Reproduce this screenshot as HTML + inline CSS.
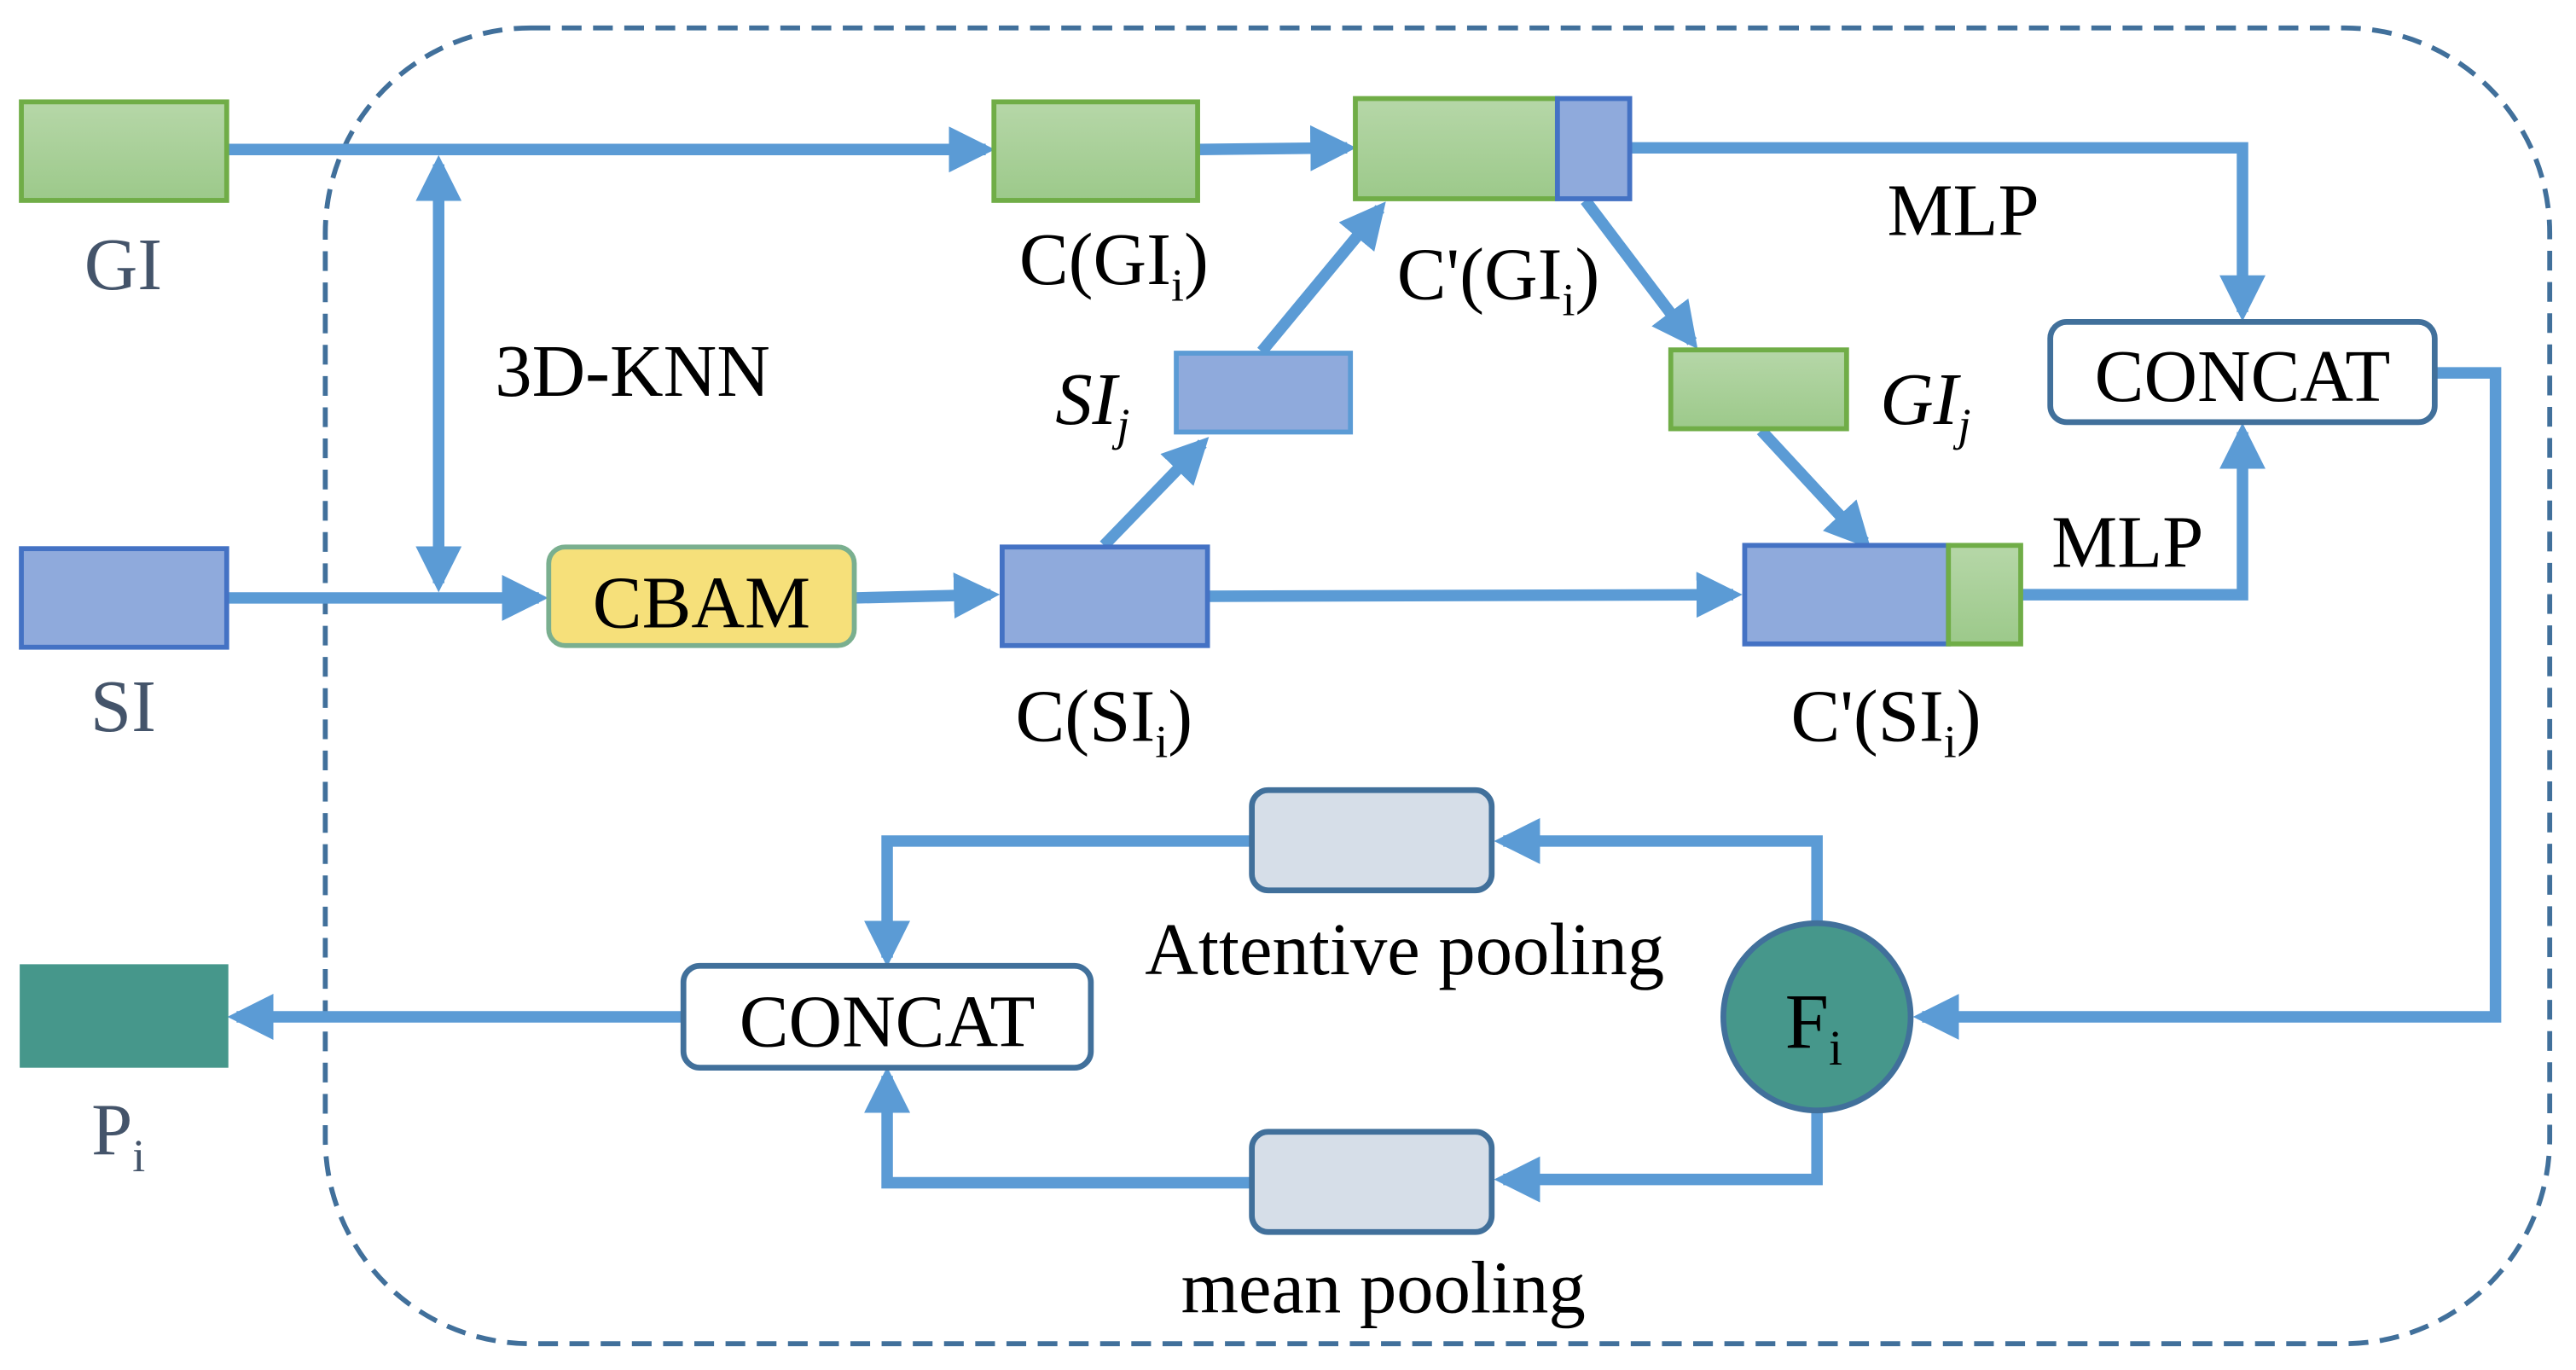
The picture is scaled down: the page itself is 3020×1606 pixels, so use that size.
<!DOCTYPE html>
<html><head><meta charset="utf-8"><style>html,body{margin:0;padding:0;background:#fff}svg{display:block}</style></head>
<body>
<svg width="3020" height="1606" viewBox="0 0 1568 834" preserveAspectRatio="none" xmlns="http://www.w3.org/2000/svg" font-family="'Liberation Serif', serif">
<defs>
<linearGradient id="g" x1="0" y1="0" x2="0" y2="1"><stop offset="0" stop-color="#b6d7a8"/><stop offset="1" stop-color="#9cc98a"/></linearGradient>
<marker id="a" markerWidth="4" markerHeight="4" refX="3.2" refY="2" orient="auto" markerUnits="strokeWidth"><path d="M0,0 L4,2 L0,4 Z" fill="#5b9bd5"/></marker>
<marker id="as" markerWidth="4" markerHeight="4" refX="0.8" refY="2" orient="auto" markerUnits="strokeWidth"><path d="M4,0 L0,2 L4,4 Z" fill="#5b9bd5"/></marker>
</defs>
<rect x="198" y="17" width="1354" height="801" rx="125" fill="none" stroke="#41709b" stroke-width="3" stroke-dasharray="12,7"/>
<g fill="none" stroke="#5b9bd5" stroke-width="7">
<path d="M138,91 H600" marker-end="url(#a)"/>
<path d="M267,100 V355" marker-end="url(#a)" marker-start="url(#as)"/>
<path d="M138,364 H328" marker-end="url(#a)"/>
<path d="M520,364 L603,362" marker-end="url(#a)"/>
<path d="M729,91 L820,90" marker-end="url(#a)"/>
<path d="M672,332 L732,270" marker-end="url(#a)"/>
<path d="M768,214 L840,127" marker-end="url(#a)"/>
<path d="M965,122 L1030,208" marker-end="url(#a)"/>
<path d="M1072,262 L1135,330" marker-end="url(#a)"/>
<path d="M735,363 L1055,362" marker-end="url(#a)"/>
<path d="M992,90 H1365 V190" marker-end="url(#a)"/>
<path d="M1230,362 H1365 V263" marker-end="url(#a)"/>
<path d="M1482,227 H1519 V619 H1170" marker-end="url(#a)"/>
<path d="M1106,562 V512 H915" marker-end="url(#a)"/>
<path d="M762,512 H540 V583" marker-end="url(#a)"/>
<path d="M1106,676 V718 H915" marker-end="url(#a)"/>
<path d="M762,720 H540 V655" marker-end="url(#a)"/>
<path d="M416,619 H144" marker-end="url(#a)"/>
</g>
<g stroke-width="3">
<rect x="13" y="62" width="125" height="60" fill="url(#g)" stroke="#70ad47"/>
<rect x="13" y="334" width="125" height="60" fill="#8faadc" stroke="#4472c4"/>
<rect x="12" y="587" width="127" height="63" fill="#46978b" stroke="none"/>
<rect x="605" y="62" width="124" height="60" fill="url(#g)" stroke="#70ad47"/>
<rect x="825" y="60" width="123" height="61" fill="url(#g)" stroke="#70ad47"/>
<rect x="948" y="60" width="44" height="61" fill="#8faadc" stroke="#4472c4"/>
<rect x="610" y="333" width="125" height="60" fill="#8faadc" stroke="#4472c4"/>
<rect x="716" y="215" width="106" height="48" fill="#8faadc" stroke="#5b9bd5"/>
<rect x="1017" y="213" width="107" height="48" fill="url(#g)" stroke="#70ad47"/>
<rect x="1062" y="332" width="124" height="60" fill="#8faadc" stroke="#4472c4"/>
<rect x="1186" y="332" width="44" height="60" fill="url(#g)" stroke="#70ad47"/>
<rect x="334" y="333" width="186" height="60" rx="10" fill="#f6e07a" stroke="#7aaf8f"/>
<rect x="1248" y="196" width="234" height="61" rx="10" fill="#fff" stroke="#41709b" stroke-width="3.5"/>
<rect x="416" y="588" width="248" height="62" rx="10" fill="#fff" stroke="#41709b" stroke-width="3.5"/>
<rect x="762" y="481" width="146" height="61" rx="10" fill="#d6dee8" stroke="#41709b" stroke-width="3.5"/>
<rect x="762" y="689" width="146" height="61" rx="10" fill="#d6dee8" stroke="#41709b" stroke-width="3.5"/>
<circle cx="1106" cy="619" r="57" fill="#46978b" stroke="#41709b" stroke-width="3.5"/>
</g>
<g font-size="45" text-anchor="middle" fill="#000">
<text x="75" y="176" fill="#44546a">GI</text>
<text x="75" y="445" fill="#44546a">SI</text>
<text x="72" y="703" fill="#44546a">P<tspan font-size="28" dy="10">i</tspan></text>
<text x="427" y="382">CBAM</text>
<text x="1365" y="244">CONCAT</text>
<text x="540" y="637">CONCAT</text>
<text x="1104" y="638" font-size="48">F<tspan font-size="30" dy="10">i</tspan></text>
<text x="385" y="241">3D-KNN</text>
<text x="678" y="173">C(GI<tspan font-size="28" dy="10">i</tspan><tspan dy="-10">)</tspan></text>
<text x="912" y="182">C'(GI<tspan font-size="28" dy="10">i</tspan><tspan dy="-10">)</tspan></text>
<text x="672" y="451">C(SI<tspan font-size="28" dy="10">i</tspan><tspan dy="-10">)</tspan></text>
<text x="1148" y="451">C'(SI<tspan font-size="28" dy="10">i</tspan><tspan dy="-10">)</tspan></text>
<text x="665" y="258" font-style="italic">SI<tspan font-size="28" dy="10">j</tspan></text>
<text x="1172" y="258" font-style="italic">GI<tspan font-size="28" dy="10">j</tspan></text>
<text x="1195" y="143">MLP</text>
<text x="1295" y="345">MLP</text>
<text x="855" y="593">Attentive pooling</text>
<text x="842" y="799">mean pooling</text>
</g>
</svg>
</body></html>
